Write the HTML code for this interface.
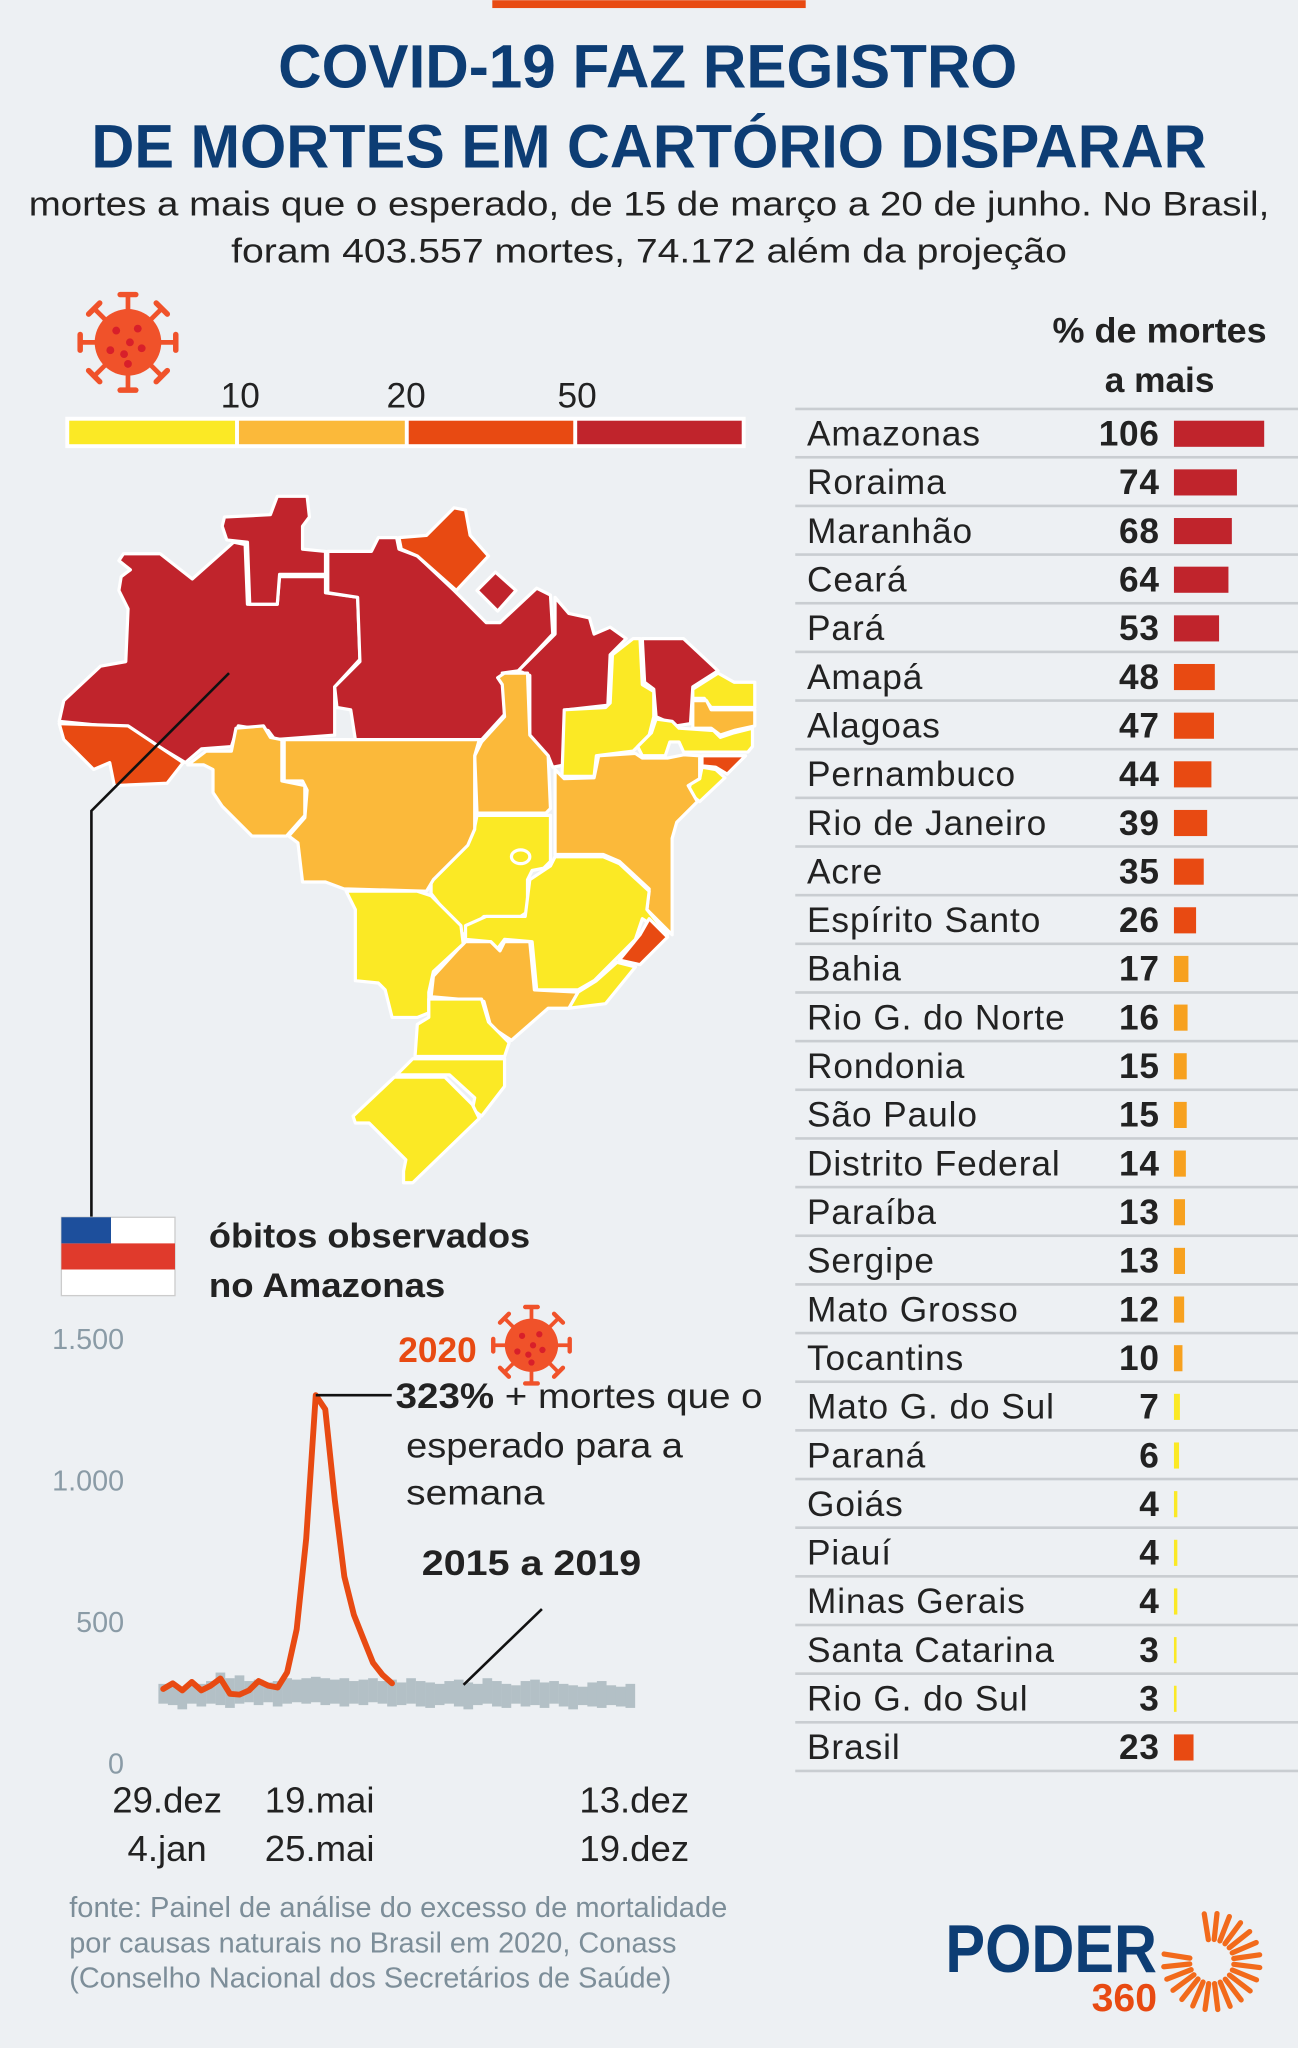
<!DOCTYPE html>
<html><head><meta charset="utf-8">
<style>
html,body{margin:0;padding:0;background:#edf0f3;}
svg{display:block;font-family:"Liberation Sans",sans-serif;}
</style></head>
<body>
<svg id="root" width="1298" height="2048" viewBox="0 0 994 1568" xmlns="http://www.w3.org/2000/svg">
<rect x="0" y="0" width="994" height="1568" fill="#edf0f3"/>
<rect x="377" y="0" width="240" height="6" fill="#e84a12"/>
<g fill="#0d3d74" font-weight="bold" font-size="47">
<text x="213" y="67" textLength="566" lengthAdjust="spacingAndGlyphs">COVID-19 FAZ REGISTRO</text>
<text x="70" y="128" textLength="854" lengthAdjust="spacingAndGlyphs">DE MORTES EM CARTÓRIO DISPARAR</text>
</g>
<g fill="#222" font-size="26">
<text x="22" y="165" textLength="950" lengthAdjust="spacingAndGlyphs">mortes a mais que o esperado, de 15 de março a 20 de junho. No Brasil,</text>
<text x="177" y="201" textLength="640" lengthAdjust="spacingAndGlyphs">foram 403.557 mortes, 74.172 além da projeção</text>
</g>
<g id="legend">
<rect x="50" y="319" width="521" height="24" fill="#fff"/>
<rect x="53" y="322" width="127" height="18" fill="#fbe925"/>
<rect x="183" y="322" width="127" height="18" fill="#fbb93a"/>
<rect x="313" y="322" width="126" height="18" fill="#e84a12"/>
<rect x="442" y="322" width="126" height="18" fill="#c0242c"/>
<g font-size="27" fill="#222" text-anchor="middle">
<text x="184" y="312">10</text>
<text x="311" y="312">20</text>
<text x="442" y="312">50</text>
</g>
</g>
<g id="icons"></g>
<g id="map" transform="translate(38.3,367.6) scale(0.3516)" stroke="#fff" stroke-width="7" stroke-linejoin="round"></g>
<polyline points="175.4,515.3 70,620.8 70,932" fill="none" stroke="#111" stroke-width="2"/>
<g id="table"></g>
<g font-weight="bold" font-size="27" fill="#222" text-anchor="middle">
<text x="888" y="262" textLength="164" lengthAdjust="spacingAndGlyphs">% de mortes</text>
<text x="888" y="300">a mais</text>
</g>
<g>
<rect x="47" y="932" width="87" height="60" fill="#fff" stroke="#ccc" stroke-width="1"/>
<rect x="47" y="952" width="87" height="20" fill="#e03a2c"/>
<rect x="47" y="932" width="38" height="20" fill="#1d4f9c"/>
</g>
<g font-weight="bold" font-size="26" fill="#222">
<text x="160" y="955" textLength="246" lengthAdjust="spacingAndGlyphs">óbitos observados</text>
<text x="160" y="993" textLength="181" lengthAdjust="spacingAndGlyphs">no Amazonas</text>
</g>
<g id="chart"></g>
<g font-size="22" fill="#7d8e99">
<text x="53" y="1468" textLength="504" lengthAdjust="spacingAndGlyphs">fonte: Painel de análise do excesso de mortalidade</text>
<text x="53" y="1495" textLength="465" lengthAdjust="spacingAndGlyphs">por causas naturais no Brasil em 2020, Conass</text>
<text x="53" y="1522" textLength="461" lengthAdjust="spacingAndGlyphs">(Conselho Nacional dos Secretários de Saúde)</text>
</g>
<g>
<text x="724" y="1510" font-size="52" font-weight="bold" fill="#0d3d74" textLength="162" lengthAdjust="spacingAndGlyphs">PODER</text>
<text x="836" y="1540" font-size="30" font-weight="bold" fill="#e84a12" textLength="50" lengthAdjust="spacingAndGlyphs">360</text>
<g id="sun" stroke="#f26a1b" stroke-width="4" stroke-linecap="round"></g>
</g>
</svg>
<script>
var NS="http://www.w3.org/2000/svg";
function mk(tag,attrs,parent){var e=document.createElementNS(NS,tag);for(var k in attrs)e.setAttribute(k,attrs[k]);parent.appendChild(e);return e;}

// ---- table data ----
var stateNames=["Amazonas","Roraima","Maranhão","Ceará","Pará","Amapá","Alagoas","Pernambuco","Rio de Janeiro","Acre","Espírito Santo","Bahia","Rio G. do Norte","Rondonia","São Paulo","Distrito Federal","Paraíba","Sergipe","Mato Grosso","Tocantins","Mato G. do Sul","Paraná","Goiás","Piauí","Minas Gerais","Santa Catarina","Rio G. do Sul","Brasil"];
var excessPct=[106,74,68,64,53,48,47,44,39,35,26,17,16,15,15,14,13,13,12,10,7,6,4,4,4,3,3,23];

function colorFor(v){return v>=50?"#c0242c":(v>=20?"#e84a12":(v>=10?"#f7a11f":"#fbe925"));}
var table=document.getElementById("table");
var topLine=mk("rect",{x:609,y:312,width:385,height:2,fill:"#c9cdd1"},table);


for(var i=0;i<stateNames.length;i++){
  var cy=332+37.26*i;
  var row=mk("g",{},table);
  
  
  var t=mk("text",{x:618,y:cy+9,"font-size":27,"letter-spacing":0.7,fill:"#222"},row);t.textContent=stateNames[i];
  
  
  var v=mk("text",{x:888,y:cy+9,"font-size":27,"letter-spacing":0.5,"font-weight":"bold",fill:"#222","text-anchor":"end"},row);v.textContent=excessPct[i];
  
  
  var b=mk("rect",{x:899,y:cy-10,width:Math.max(2,excessPct[i]*0.652),height:20,fill:colorFor(excessPct[i])},row);
  
  
  var l=mk("rect",{x:609,y:cy+17,width:385,height:2,fill:"#c9cdd1"},row);
  
  
}

// ---- virus icons ----
function virus(cx,cy,r,name){
  var g=mk("g",{},document.getElementById("icons"));
  
  
  for(var a=0;a<8;a++){var ang=a*Math.PI/4;
    var x1=cx+Math.cos(ang)*r*0.8,y1=cy+Math.sin(ang)*r*0.8,x2=cx+Math.cos(ang)*r*1.22,y2=cy+Math.sin(ang)*r*1.22;
    mk("line",{x1:x1,y1:y1,x2:x2,y2:y2,stroke:"#f0522a","stroke-width":r*0.12},g);
    mk("line",{x1:x2-Math.sin(ang)*r*0.2,y1:y2+Math.cos(ang)*r*0.2,x2:x2+Math.sin(ang)*r*0.2,y2:y2-Math.cos(ang)*r*0.2,stroke:"#f0522a","stroke-width":r*0.14,"stroke-linecap":"round"},g);}
  mk("circle",{cx:cx,cy:cy,r:r*0.85,fill:"#f0522a"},g);
  var dots=[[-0.3,-0.3],[0.25,-0.35],[0.05,0.0],[-0.45,0.2],[-0.1,0.3],[0.35,0.15],[0.0,0.55]];
  dots.forEach(function(d){mk("circle",{cx:cx+d[0]*r,cy:cy+d[1]*r,r:r*0.1,fill:"#d81f2a"},g);});
}
virus(98,262,30,"legend-virus-icon");
virus(407,1030,24,"chart-virus-icon");

// ---- map ----
var regions=[
 ["amazonas","#c0242c","20,525 30,480 110,405 165,395 170,280 150,240 155,210 175,195 150,175 160,160 240,160 310,215 400,135 425,140 430,270 495,270 500,210 600,210 600,245 670,255 675,390 620,450 620,555 490,565 475,545 410,535 395,580 330,585 295,615 170,540"],
 ["acre","#e84a12","20,530 170,535 290,615 255,660 140,665 130,615 95,630 30,565"],
 ["roraima","#c0242c","380,80 480,75 495,35 560,35 565,80 550,100 550,150 600,155 600,205 500,205 495,270 435,270 430,135 385,130 375,100"],
 ["para","#c0242c","605,155 700,155 715,125 755,125 760,150 800,165 880,240 900,260 950,310 980,310 1060,235 1090,250 1095,335 1020,415 985,420 990,510 940,565 665,565 655,500 625,495 620,450 675,395 670,255 605,245"],
 ["amapa","#e84a12","760,125 820,120 880,60 905,65 915,120 955,165 885,240 800,165 765,150"],
 ["marajo","#c0242c","930,240 970,200 1015,240 975,285"],
 ["maranhao","#c0242c","1100,255 1130,290 1175,300 1185,335 1220,320 1255,345 1220,380 1215,490 1125,500 1120,620 1095,625 1085,600 1045,555 1045,425 1020,415 1100,335"],
 ["piaui","#fbe925","1225,380 1270,345 1285,345 1290,445 1315,460 1315,515 1305,555 1270,590 1190,600 1185,645 1115,645 1120,500 1210,495 1220,485"],
 ["ceara","#c0242c","1290,345 1380,345 1455,415 1400,450 1395,530 1365,535 1320,515 1315,455 1295,440"],
 ["rio-grande-do-norte","#fbe925","1455,420 1490,440 1535,440 1535,495 1440,495 1425,475 1400,475 1400,455"],
 ["paraiba","#fbb93a","1400,480 1430,480 1440,500 1535,500 1535,535 1490,545 1460,555 1440,540 1400,540"],
 ["pernambuco","#fbe925","1320,520 1355,525 1370,540 1445,545 1460,560 1490,550 1530,540 1530,580 1520,592 1380,592 1370,570 1350,570 1340,600 1290,600 1280,580 1310,550"],
 ["alagoas","#e84a12","1420,600 1515,600 1475,640 1450,625 1420,622"],
 ["sergipe","#fbe925","1420,625 1450,630 1470,648 1415,700 1390,680 1395,660 1415,650"],
 ["bahia","#fbb93a","1100,630 1120,650 1185,648 1195,600 1275,595 1290,605 1345,605 1380,598 1415,600 1415,650 1390,665 1410,700 1365,745 1355,780 1355,990 1300,935 1305,890 1240,830 1205,815 1100,815"],
 ["tocantins","#fbb93a","940,570 990,515 985,445 975,430 990,420 1040,420 1045,555 1085,600 1090,715 1080,725 930,725 925,600"],
 ["goias","#fbe925","930,730 1090,730 1090,830 1075,845 1050,850 1040,870 1040,940 1025,950 945,950 900,990 830,900 830,870 905,795 925,755"],
 ["minas-gerais","#fbe925","1100,820 1205,820 1240,835 1305,895 1300,935 1345,990 1290,955 1275,1000 1185,1090 1150,1110 1060,1110 1050,1005 990,1000 975,1020 960,1005 905,1000 905,970 950,950 1035,950 1045,870 1090,840"],
 ["espirito-santo","#e84a12","1305,955 1345,995 1285,1055 1240,1045 1285,990"],
 ["rio-de-janeiro","#fbe925","1235,1050 1275,1060 1210,1140 1130,1150 1150,1115 1190,1090"],
 ["sao-paulo","#fbb93a","905,1005 960,1005 980,1025 990,1005 1045,1005 1055,1110 1150,1115 1130,1150 1085,1150 1005,1220 960,1190 945,1135 830,1125 835,1080 890,1020"],
 ["mato-grosso-do-sul","#fbe925","645,895 800,895 830,905 895,970 900,1010 835,1070 825,1115 825,1160 800,1170 745,1170 730,1110 715,1095 665,1090 665,935"],
 ["mato-grosso","#fbb93a","510,565 660,565 935,565 925,600 925,760 910,795 835,870 820,895 640,890 600,875 550,875 540,790 520,775 555,735 560,675 550,655 510,655"],
 ["rondonia","#fbb93a","300,620 340,590 395,590 405,540 465,535 480,560 505,565 505,655 555,665 555,730 515,775 440,775 375,710 355,680 355,630 335,620"],
 ["parana","#fbe925","825,1130 940,1130 955,1180 1000,1225 990,1255 795,1255 800,1185 825,1170"],
 ["santa-catarina","#fbe925","790,1260 990,1260 990,1320 940,1385 920,1370 925,1345 870,1295 755,1295"],
 ["rio-grande-do-sul","#fbe925","750,1300 860,1300 920,1360 935,1390 790,1530 770,1530 770,1505 775,1480 695,1400 665,1400 660,1385"]
];
var map=document.getElementById("map");
regions.forEach(function(r){
  var p=mk("polygon",{points:r[2],fill:r[1]},map);
  
  
});
var df=mk("ellipse",{cx:1025,cy:820,rx:20,ry:15,fill:"#fbe925"},map);



// ---- line chart ----
var yTicks=[0,500,1000,1500];
var yTickLabels=["0","500","1.000","1.500"];
var deaths2020=[262,282,257,287,257,274,299,245,242,257,290,274,267,321,473,794,1300,1250,929,659,524,439,355,312,282];
var rangeHigh=[280,275,270,285,280,290,320,300,310,290,295,285,290,300,295,300,305,300,295,300,290,295,300,290,295,285,300,290,285,280,290,295,285,280,300,290,280,275,290,295,285,290,280,275,270,285,290,275,270,280];
var rangeLow=[210,205,190,210,200,210,205,195,210,215,205,215,200,210,215,210,215,205,210,200,210,205,215,210,200,205,210,200,195,205,210,200,190,205,210,200,195,210,200,205,195,210,200,190,205,200,195,205,200,195];
var xLabelsTop=["29.dez","19.mai","13.dez"];
var xLabelsBottom=["4.jan","25.mai","19.dez"];
var xLabelWeeks=[0,16,49];

function yS(v){return 1350-v*0.2167;}
function xS(w){return 125+7.3*w;}
var chart=document.getElementById("chart");
yTicks.forEach(function(t,i){
  var e=mk("text",{x:95,y:yS(t)+8,"font-size":22,fill:"#8a9ba6","text-anchor":"end"},chart);
  e.textContent=yTickLabels[i];
  
  
});
for(var w=0;w<rangeHigh.length;w++){
  var rr=mk("rect",{x:xS(w)-3.7,y:yS(rangeHigh[w]),width:7.4,height:yS(rangeLow[w])-yS(rangeHigh[w]),fill:"#b3c0c6"},chart);
  
  
}
var pts=deaths2020.map(function(v,i){return xS(i)+","+yS(v);}).join(" ");
var line=mk("polyline",{points:pts,fill:"none",stroke:"#e84a12","stroke-width":4.5,"stroke-linejoin":"round","stroke-linecap":"round"},chart);


xLabelWeeks.forEach(function(wk,i){
  var a=mk("text",{x:xS(wk)+3,y:1388,"font-size":28,fill:"#222","text-anchor":"middle"},chart);a.textContent=xLabelsTop[i];
  
  
  var b=mk("text",{x:xS(wk)+3,y:1425,"font-size":28,fill:"#222","text-anchor":"middle"},chart);b.textContent=xLabelsBottom[i];
  
  
});
// annotations
var peakIdx=16;
var al=mk("line",{x1:xS(peakIdx),y1:yS(deaths2020[peakIdx]),x2:300,y2:yS(deaths2020[peakIdx]),stroke:"#111","stroke-width":2},chart);


var t2020=mk("text",{x:305,y:1043,"font-size":27,"font-weight":"bold",fill:"#e84a12"},chart);t2020.textContent="2020";


var ann=mk("text",{x:303,y:1078,"font-size":27,fill:"#222",textLength:281,lengthAdjust:"spacingAndGlyphs"},chart);


var ts=mk("tspan",{"font-weight":"bold"},ann);ts.textContent="323%";
var ts2=mk("tspan",{},ann);ts2.textContent=" + mortes que o";
var a2=mk("text",{x:311,y:1116,"font-size":27,fill:"#222",textLength:212,lengthAdjust:"spacingAndGlyphs"},chart);a2.textContent="esperado para a";


var a3=mk("text",{x:311,y:1152,"font-size":27,fill:"#222",textLength:106,lengthAdjust:"spacingAndGlyphs"},chart);a3.textContent="semana";


var rl=mk("text",{x:323,y:1206,"font-size":27,"font-weight":"bold",fill:"#222",textLength:168,lengthAdjust:"spacingAndGlyphs"},chart);rl.textContent="2015 a 2019";


var rline=mk("line",{x1:415,y1:1232,x2:355,y2:1290,stroke:"#111","stroke-width":2},chart);



// logo sun
var sun=document.getElementById("sun");
for(var k=0;k<20;k++){var an=-Math.PI*0.55+k*(Math.PI*1.6/19);
  mk("line",{x1:928+Math.cos(an)*17,y1:1502+Math.sin(an)*17,x2:928+Math.cos(an)*37,y2:1502+Math.sin(an)*37},sun);}
</script>
</body></html>
